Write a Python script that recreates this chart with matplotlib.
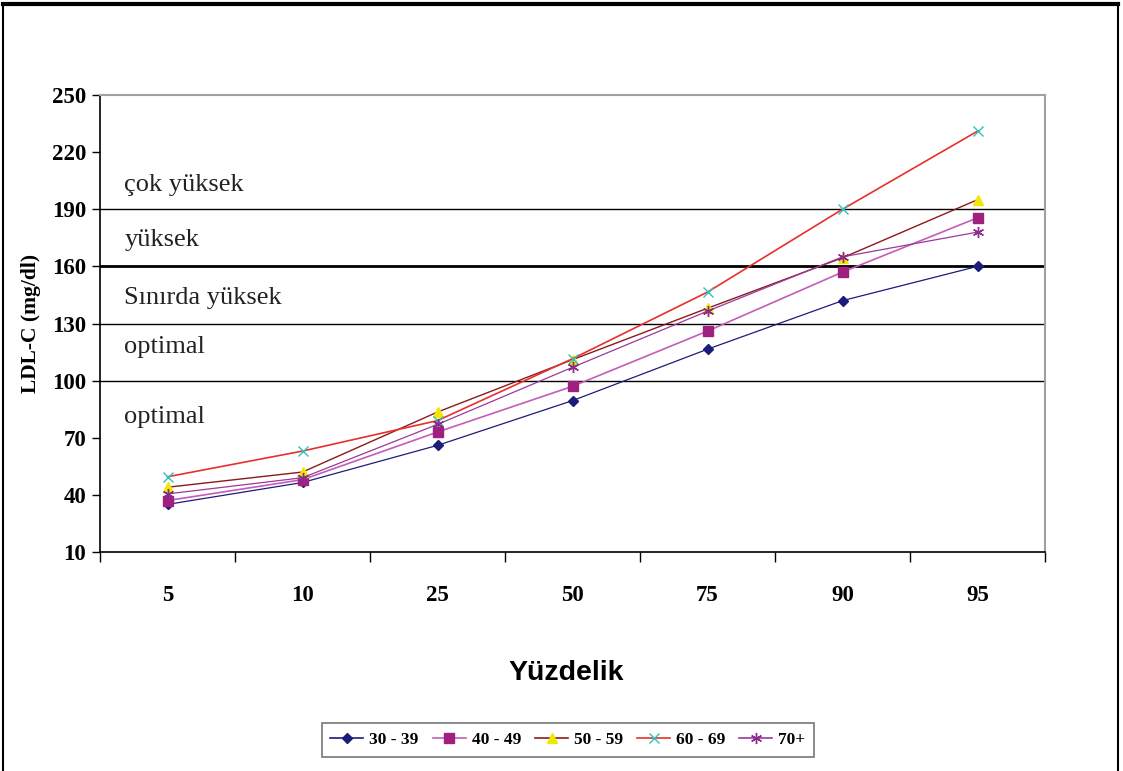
import numpy as np
import matplotlib.pyplot as plt
from matplotlib.lines import Line2D

# veriler
percentiles = ["5", "10", "25", "50", "75", "90", "95"]
s30_39 = [35, 46.5, 66, 89.5, 116.5, 142, 160]
s40_49 = [37, 48, 73, 97, 126, 157, 185.5]
s50_59 = [44, 52, 83.5, 111, 138, 164.5, 195]
s60_69 = [49.5, 63, 79, 111.5, 146.5, 190, 231]
s70 = [40.5, 49, 77, 107, 136.5, 165, 178]
series_names = ["30 - 39", "40 - 49", "50 - 59", "60 - 69", "70+"]
zone_lines = [100, 130, 160, 190]
zone_labels = ["optimal", "optimal", "Sınırda yüksek", "yüksek", "çok yüksek"]
zone_label_y = [81, 117.5, 143.5, 174, 202.5]

serif = "Liberation Serif"
sans = "Liberation Sans"

fig = plt.figure(figsize=(11.23, 7.71), dpi=100)
ax = fig.add_axes([100/1123, 1-552/771, 945/1123, 457/771])

x = np.arange(len(percentiles)) + 0.5

# bölge çizgileri
for v in zone_lines:
    ax.axhline(v, color="black", lw=2.0 if v == 160 else 1.0, zorder=1)
for t, yv in zip(zone_labels, zone_label_y):
    ax.text(0.18, yv, t, fontsize=19, family=serif, va="center", ha="left", color="#222222")

styles = [
    (s30_39, "#1c1c7a", "D", "#1c1c7a", 5, 0.9),
    (s40_49, "#c55cb8", "s", "#a0207f", 7, 1.2),
    (s50_59, "#8b1a1a", "^", "#f0e800", 7, 1.0),
    (s60_69, "#e8302a", "x", "#30c0c0", 7, 1.2),
    (s70, "#9a3a9a", (6, 2, 0), "#8a2a8a", 8, 0.9),
]
handles = []
for (vals, lc, mk, mc, ms, lw), name in zip(styles, series_names):
    ax.plot(x, vals, color=lc, lw=lw, marker=mk, markerfacecolor=mc,
            markeredgecolor=mc, markersize=ms, zorder=3)
    handles.append(Line2D([], [], color=lc, lw=1.2, marker=mk, markerfacecolor=mc,
                          markeredgecolor=mc, markersize=ms))

ax.set_xlim(0, 7)
ax.set_ylim(10, 250)
ax.set_yticks(np.arange(10, 251, 30))
ax.set_xticks(np.arange(0, 8))
ax.set_xticklabels([])
ax.set_xticks(x, minor=True)
ax.set_xticklabels(percentiles, minor=True)
ax.tick_params(axis="x", which="major", length=7, width=1, direction="out")
ax.tick_params(axis="x", which="minor", length=0, pad=24)
ax.tick_params(axis="y", length=6, width=1, direction="out", pad=4)
for lab in ax.get_yticklabels() + ax.get_xticklabels(minor=True):
    lab.set_fontfamily(serif)
    lab.set_fontweight("bold")
    lab.set_fontsize(16.5)

for s in ["top", "right"]:
    ax.spines[s].set_color("#a0a0a0")
    ax.spines[s].set_linewidth(1.5)
for s in ["left", "bottom"]:
    ax.spines[s].set_color("black")
    ax.spines[s].set_linewidth(1.2)

ax.set_ylabel("LDL-C (mg/dl)", family=serif, fontweight="bold", fontsize=15.5, labelpad=8)
fig.text(566/1123, 1-673/771, "Yüzdelik", family=sans, fontweight="bold", fontsize=20.5,
         ha="center", va="center")

leg = fig.legend(handles, series_names, loc="center", bbox_to_anchor=(568/1123, 1-740/771),
                 ncol=5, frameon=True, fancybox=False, edgecolor="#555555",
                 prop={"family": serif, "weight": "bold", "size": 12.5},
                 handlelength=1.9, columnspacing=0.8, handletextpad=0.35,
                 borderpad=0.5)
leg.get_frame().set_linewidth(1.2)

# dış çerçeve
fig.add_artist(Line2D([3/1123, 1118/1123], [1-4/771, 1-4/771], color="black", lw=3))
fig.add_artist(Line2D([3/1123, 3/1123], [0, 1-4/771], color="black", lw=1.5))
fig.add_artist(Line2D([1118/1123, 1118/1123], [0, 1-4/771], color="black", lw=1.5))

fig.savefig("out.png", dpi=100)
